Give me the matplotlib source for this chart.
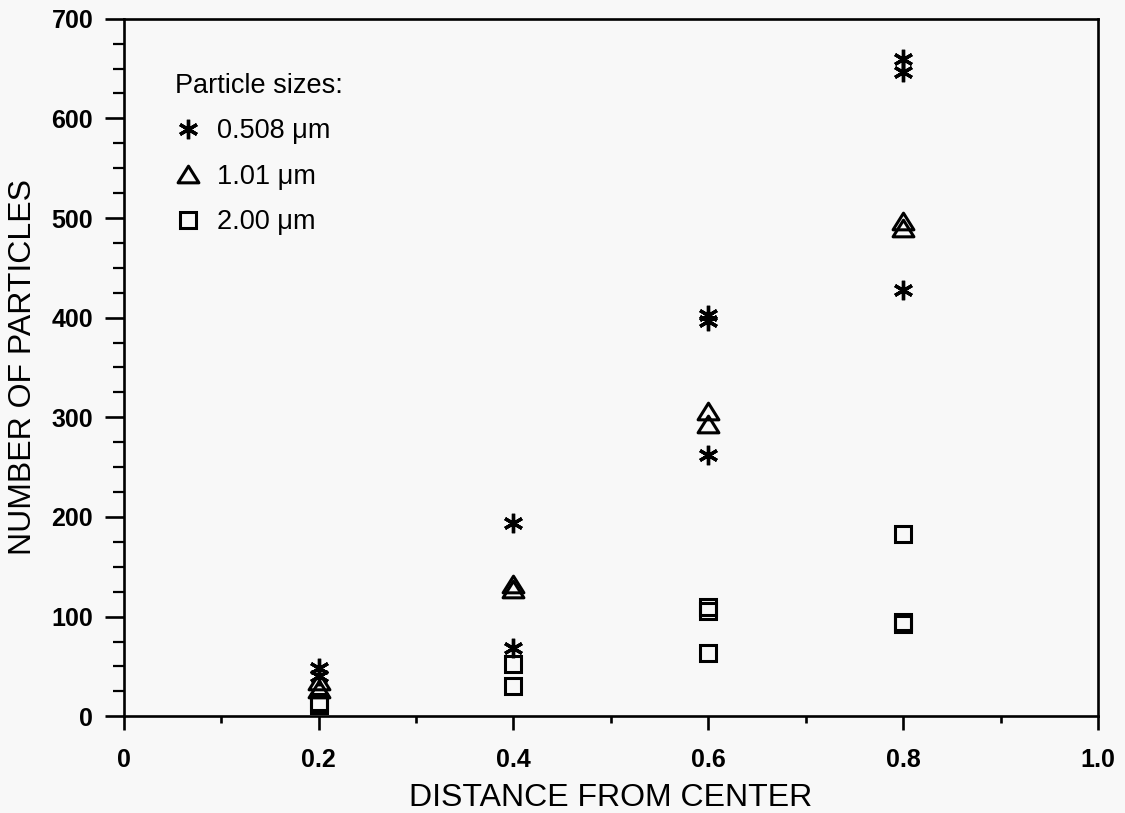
import matplotlib
matplotlib.use("Agg")
import matplotlib.pyplot as plt
from matplotlib.ticker import MultipleLocator
from matplotlib.path import Path

plt.rcParams['font.family'] = ['Liberation Sans', 'DejaVu Sans']

# Data
star_x = [0.2, 0.2, 0.4, 0.4, 0.6, 0.6, 0.6, 0.8, 0.8, 0.8]
star_y = [48, 40, 194, 68, 403, 397, 262, 660, 647, 428]
tri_x = [0.2, 0.2, 0.4, 0.4, 0.6, 0.6, 0.8, 0.8]
tri_y = [35, 27, 133, 128, 306, 293, 497, 490]
sq_x = [0.2, 0.2, 0.4, 0.4, 0.6, 0.6, 0.6, 0.8, 0.8, 0.8]
sq_y = [14, 11, 52, 30, 110, 106, 63, 183, 95, 93]

labels = ["0.508 \u03bcm", "1.01 \u03bcm", "2.00 \u03bcm"]
legend_title = "Particle sizes:"
xticks = [0, 0.2, 0.4, 0.6, 0.8, 1.0]
xticklabels = ["0", "0.2", "0.4", "0.6", "0.8", "1.0"]
yticks = [0, 100, 200, 300, 400, 500, 600, 700]

bg = '#f8f8f8'
fig = plt.figure(figsize=(11.25, 8.13), dpi=100, facecolor=bg)
ax = fig.add_axes([0.110, 0.119, 0.866, 0.858], facecolor=bg)

star_marker = (6, 2, 0)
tri_marker = Path([(0, 0.8), (-1, -0.8), (1, -0.8), (0, 0.8)],
                  [Path.MOVETO, Path.LINETO, Path.LINETO, Path.CLOSEPOLY])

ax.plot(star_x, star_y, linestyle='none', marker=star_marker, markersize=14,
        markeredgewidth=2.4, color='black', label=labels[0])
ax.plot(tri_x, tri_y, linestyle='none', marker=tri_marker, markersize=15,
        markeredgewidth=2.2, markerfacecolor='none', markeredgecolor='black', label=labels[1])
ax.plot(sq_x, sq_y, linestyle='none', marker='s', markersize=11,
        markeredgewidth=2.2, markerfacecolor='none', markeredgecolor='black', label=labels[2])

ax.set_xlim(0, 1.0)
ax.set_ylim(0, 700)
ax.set_xticks(xticks)
ax.set_xticklabels(xticklabels)
ax.set_yticks(yticks)
ax.xaxis.set_minor_locator(MultipleLocator(0.1))
ax.yaxis.set_minor_locator(MultipleLocator(25))

for s in ax.spines.values():
    s.set_linewidth(1.9)
    s.set_color('black')

ax.tick_params(axis='both', which='major', direction='out', width=1.9, labelsize=18, colors='black')
ax.tick_params(axis='x', which='major', length=10, pad=13)
ax.tick_params(axis='x', which='minor', direction='out', length=5, width=1.9)
ax.tick_params(axis='y', which='major', length=14, pad=8)
ax.tick_params(axis='y', which='minor', direction='out', length=8, width=1.6)
for lab in ax.get_xticklabels() + ax.get_yticklabels():
    lab.set_fontweight('bold')

ax.set_xlabel("DISTANCE FROM CENTER", fontsize=23, labelpad=8)
ax.set_ylabel("NUMBER OF PARTICLES", fontsize=23, labelpad=10)

leg = ax.legend(loc='upper left', bbox_to_anchor=(0.033, 0.95), frameon=False,
                title=legend_title, title_fontsize=19.5, fontsize=19.5,
                alignment='left', labelspacing=0.72, handlelength=0.95,
                handletextpad=0.6, borderpad=0.2)

fig.savefig("out.png", dpi=100, facecolor=bg)
